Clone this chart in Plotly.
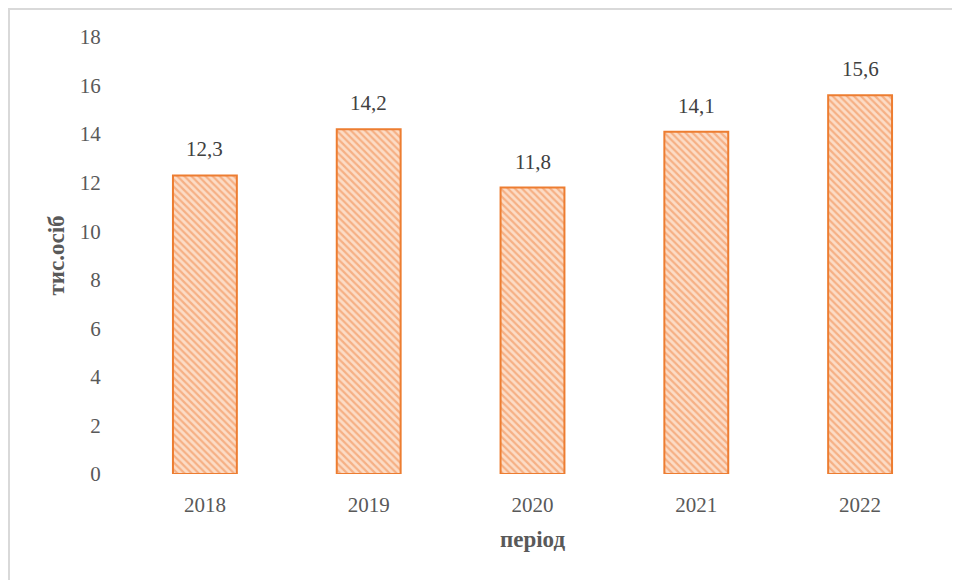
import plotly.graph_objects as go

years = ["2018", "2019", "2020", "2021", "2022"]
values = [12.3, 14.2, 11.8, 14.1, 15.6]
labels = ["12,3", "14,2", "11,8", "14,1", "15,6"]
y_ticks = [0, 2, 4, 6, 8, 10, 12, 14, 16, 18]

font_family = "Liberation Serif, Times New Roman, serif"
W, H = 952, 572
L, R, T, B = 115, 18, 29, 106
pw, ph = W - L - R, H - T - B

fig = go.Figure()
fig.add_trace(go.Bar(
    x=years, y=values,
    width=0.39,
    marker=dict(
        color="#fcdcc6",
        line=dict(color="#ed7d31", width=2),
        pattern=dict(shape="\\", fgcolor="#f08443", bgcolor="#fcdcc6",
                     size=5, solidity=0.45, fillmode="overlay"),
    ),
))

# data labels: category index on the category axis
for i, (y, t) in enumerate(zip(values, labels)):
    fig.add_annotation(x=i, y=y, xref="x", yref="y", text=t, showarrow=False,
                       yanchor="bottom", yshift=12,
                       font=dict(family=font_family, size=21, color="#404040"))

fig.update_layout(
    width=W, height=H,
    margin=dict(l=L, r=R, t=T, b=B),
    paper_bgcolor="white", plot_bgcolor="white",
    showlegend=False,
    font=dict(family=font_family, size=21, color="#595959"),
    xaxis=dict(
        type="category", range=[-0.5, len(years) - 0.5],
        showgrid=False, showline=False, zeroline=False,
        ticks="outside", tickcolor="rgba(0,0,0,0)", ticklen=12,
        tickfont=dict(family=font_family, size=21, color="#595959"),
        title=dict(text="<b>період</b>", standoff=14,
                   font=dict(family=font_family, size=23, color="#595959")),
    ),
    yaxis=dict(
        range=[0, 18], tickvals=y_ticks,
        showgrid=False, showline=False, zeroline=False,
        ticks="outside", tickcolor="rgba(0,0,0,0)", ticklen=17,
        tickfont=dict(family=font_family, size=21, color="#595959"),
        title=dict(text="<b>тис.осіб</b>", standoff=8,
                   font=dict(family=font_family, size=23, color="#595959")),
    ),
    shapes=[dict(type="rect", xref="paper", yref="paper",
                 x0=(1 - L) / pw, x1=1.1, y0=-0.4, y1=(ph + T - 1) / ph,
                 line=dict(color="#d9d9d9", width=2), fillcolor="rgba(0,0,0,0)",
                 layer="below")],
)

fig.write_html("out.html")
